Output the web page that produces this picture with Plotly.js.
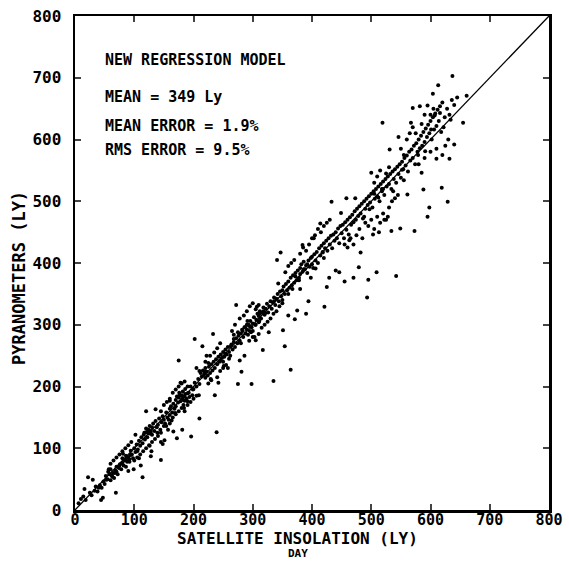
<!DOCTYPE html>
<html><head><meta charset="utf-8">
<script src="https://cdn.plot.ly/plotly-3.0.1.min.js"></script>
<style>body{margin:0;background:#fff}#c{width:569px;height:561px}</style>
</head><body><div id="c"></div>
<script>
// Outlying / scattered points (x = satellite, y = pyranometer, Ly)
const scatterX = [6,22,16,30,33,44,47,40,57,53,63,67,69,75,81,87,90,92,94,99,102,105,108,111,114,117,120,123,126,128,129,136,139,145,145,148,151,154,157,160,163,166,169,172,175,178,181,184,185,190,193,196,199,202,205,209,210,215,219,222,225,229,233,236,239,242,245,251,254,258,263,268,272,275,278,281,286,291,294,298,303,307,311,317,321,327,335,336,341,343,347,351,354,360,364,367,371,375,380,384,390,394,398,403,406,414,418,421,425,429,433,440,446,449,455,458,463,470,473,479,482,488,493,495,497,500,503,509,513,519,522,528,531,534,537,542,546,549,552,555,561,567,570,573,579,582,585,588,591,595,598,601,604,607,610,613,616,619,622,629,632,634,637,640,645,655,661];
const scatterY = [11,53,34,49,31,16,20,36,66,49,54,60,28,72,91,84,63,78,89,66,122,95,84,72,53,125,160,127,104,87,95,163,125,81,110,107,113,136,130,177,145,127,157,116,242,206,130,165,177,189,183,119,195,277,230,186,148,265,224,250,238,212,285,186,126,206,242,233,253,230,265,277,332,204,242,224,250,306,274,204,280,329,306,259,319,288,209,338,405,367,417,291,265,315,227,358,309,323,358,429,318,338,376,440,391,464,417,329,361,376,499,388,385,481,370,505,437,376,505,393,417,475,344,373,487,546,446,385,450,627,470,475,584,452,516,379,604,456,551,534,511,627,651,452,575,654,546,519,581,475,490,616,674,639,569,688,643,522,620,499,569,632,703,592,668,627,671];
// Dense band of points along the diagonal
const bandX = [10,14,18,25,28,35,38,42,45,48,50,52,55,56,58,60,60,62,64,66,68,70,70,72,74,76,78,80,80,82,84,86,86,88,90,92,94,96,98,100,102,104,106,108,110,112,114,116,118,120,120,122,124,125,126,128,130,130,132,134,136,138,140,142,144,146,148,150,150,152,154,156,158,160,160,162,164,166,168,170,170,172,174,175,176,178,180,180,182,183,185,186,188,190,192,195,198,200,202,205,208,210,212,214,216,218,220,220,222,224,226,228,230,232,234,236,238,240,242,244,246,248,250,252,254,256,258,260,262,264,266,268,268,270,272,274,275,276,278,280,280,282,284,286,288,290,290,292,294,295,296,298,300,300,302,304,306,308,310,310,312,314,316,318,320,322,324,326,328,330,332,334,336,338,340,342,344,346,348,350,350,352,354,356,358,360,360,362,364,366,368,370,372,374,376,378,380,380,382,384,386,388,390,392,394,396,398,400,400,402,404,406,408,410,412,414,416,418,420,420,422,424,426,428,430,432,434,436,438,440,442,444,446,448,450,452,454,456,458,460,462,464,466,468,470,472,474,476,478,480,482,484,486,488,490,492,494,496,498,500,502,504,506,508,510,512,514,516,518,520,522,524,526,528,530,532,534,536,538,540,542,544,546,548,550,552,554,556,558,560,562,564,566,568,570,572,574,576,578,580,582,584,586,588,590,592,594,596,598,600,602,604,606,608,610,612,614,616,618,620,624,628,632,636,640];
const bandY = [18,22,16,28,24,38,30,40,36,46,42,55,50,62,58,48,66,56,60,52,64,62,70,58,68,74,66,76,84,72,80,88,70,78,86,82,96,90,84,100,94,106,98,112,104,118,108,122,114,126,132,118,130,124,136,128,122,134,140,128,144,134,138,148,130,142,152,146,136,140,158,150,146,164,154,168,158,172,164,178,168,184,174,182,190,176,186,178,192,170,184,196,180,176,190,200,186,196,206,200,212,204,222,216,226,220,230,214,224,218,232,222,236,226,240,230,244,236,248,240,252,246,256,248,260,252,264,256,250,268,260,272,284,264,278,270,288,282,274,286,270,292,280,296,286,300,292,284,298,290,306,296,302,290,312,300,308,318,304,314,322,310,320,328,316,326,334,320,330,338,326,336,344,332,342,350,338,354,346,356,340,362,350,366,356,370,350,360,376,364,380,368,384,372,388,376,392,382,398,386,402,390,396,384,404,394,408,398,410,392,414,404,418,400,424,412,428,418,432,408,424,436,420,440,430,444,424,446,436,450,440,456,432,460,448,462,440,466,454,470,446,474,462,478,466,484,470,488,476,492,480,496,472,500,488,504,494,508,498,512,490,516,504,520,508,524,500,528,516,532,510,536,524,540,528,544,520,548,536,552,530,556,544,560,538,564,552,570,558,574,548,580,566,584,570,590,560,594,580,600,586,606,590,612,596,618,604,624,610,630,600,636,616,642,622,648,630,654,612,660,636,650,640,664,656];
// Extra points filling the spread on either side of the band
const extraX = [455,460,465,470,475,480,485,490,495,500,505,510,515,520,525,530,535,540,545,520,525,530,510,515,505,550,555,560,565,570,575,585,590,595,600,605,580,590,600,610,620,625,630,395,400,405,410,415,420,425,430,390,385,380,370,365,360,355,265,270,278,285,290,295,300,305,310,300,305,310,315,320,325,330,335,340,345,350,145,150,155,160,165,170,175,180,185,190,160,165,170,175,180,185,190,195,200,205,210,220,228,235,240,245,250,255,260,240,245,250,230,225,60,65,70,75,80,85,90,95,100,105,110,115,120,125,130,135,140,145,283,287,293,297,305,312,318,176,181,186,125,128,372,378,386,392,505,512,518];
const extraY = [430,425,440,430,445,455,440,465,460,470,455,475,465,480,470,490,500,505,510,520,545,555,540,550,530,585,575,600,610,620,610,625,640,655,640,650,560,570,580,585,575,590,600,430,440,445,455,450,460,465,470,420,425,415,405,400,395,385,290,300,310,315,322,330,335,325,332,280,275,285,295,300,305,310,318,322,330,335,160,170,175,180,190,195,200,205,208,200,140,150,155,160,165,160,170,175,180,185,225,240,250,255,262,270,240,235,245,215,225,230,210,205,75,80,85,90,95,100,105,110,80,85,90,95,100,105,110,115,120,125,290,296,300,288,300,318,322,185,180,188,128,124,378,372,390,398,512,506,520];
const lineX = [0, 800];
const lineY = [0, 800];
const tickVals = [0,100,200,300,400,500,600,700,800];

const allX = scatterX.concat(bandX, extraX);
const allY = scatterY.concat(bandY, extraY);

const tickFont = {family:'DejaVu Sans Mono', size:15, color:'#000', weight:700};
const txtFont = {family:'DejaVu Sans Mono', size:15, color:'#000', weight:700};

const data = [
  {x:lineX, y:lineY, mode:'lines', line:{color:'#000', width:1.3}, hoverinfo:'skip'},
  {x:allX, y:allY, mode:'markers', marker:{color:'#000', size:4, symbol:'circle'}}
];
const layout = {
  width:569, height:561, showlegend:false,
  paper_bgcolor:'#fff', plot_bgcolor:'#fff',
  margin:{l:75, r:20, t:16, b:51},
  xaxis:{range:[0,800], tickvals:tickVals, ticks:'inside', ticklen:6, tickwidth:2,
    showline:true, linewidth:2.5, linecolor:'#000', mirror:'allticks', showgrid:false, zeroline:false,
    tickfont:tickFont, ticklabelstandoff:-6, fixedrange:true},
  yaxis:{range:[0,800], tickvals:tickVals, ticks:'inside', ticklen:6, tickwidth:2,
    showline:true, linewidth:2.5, linecolor:'#000', mirror:'allticks', showgrid:false, zeroline:false,
    tickfont:{family:'DejaVu Sans Mono', size:16, color:'#000', weight:700}, ticklabelstandoff:8, fixedrange:true},
  annotations:[
    {text:'NEW REGRESSION MODEL', xref:'paper', yref:'paper', x:0.06, y:0.911, xanchor:'left', yanchor:'middle', showarrow:false, font:txtFont},
    {text:'MEAN = 349 Ly', xref:'paper', yref:'paper', x:0.06, y:0.836, xanchor:'left', yanchor:'middle', showarrow:false, font:txtFont},
    {text:'MEAN ERROR = 1.9%', xref:'paper', yref:'paper', x:0.06, y:0.777, xanchor:'left', yanchor:'middle', showarrow:false, font:txtFont},
    {text:'RMS ERROR = 9.5%', xref:'paper', yref:'paper', x:0.06, y:0.729, xanchor:'left', yanchor:'middle', showarrow:false, font:txtFont},
    {text:'SATELLITE INSOLATION (LY)', xref:'paper', yref:'paper', x:0.47, y:-0.0587, xanchor:'center', yanchor:'middle', showarrow:false, font:{family:'DejaVu Sans Mono', size:16, color:'#000', weight:700}},
    {text:'DAY', xref:'paper', yref:'paper', x:0.47, y:-0.089, xanchor:'center', yanchor:'middle', showarrow:false, font:{family:'DejaVu Sans Mono', size:11, color:'#000', weight:700}},
    {text:'PYRANOMETERS (LY)', xref:'paper', yref:'paper', x:-0.118, y:0.47, xanchor:'center', yanchor:'middle', textangle:-90, showarrow:false, font:{family:'DejaVu Sans Mono', size:17, color:'#000', weight:700}}
  ]
};
Plotly.newPlot('c', data, layout, {displayModeBar:false, staticPlot:true});
</script></body></html>
